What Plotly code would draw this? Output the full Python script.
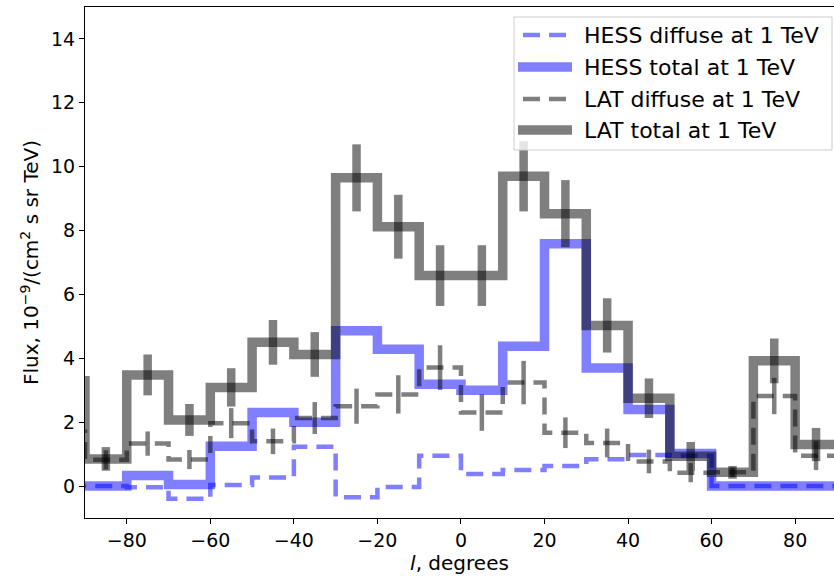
import plotly.graph_objects as go

# Bin centers (degrees of Galactic longitude); the first bin lies just outside the axis
centers = [-95, -85, -75, -65, -55, -45, -35, -25, -15, -5, 5, 15, 25, 35, 45, 55, 65, 75, 85]
bin_half = 5

hess_diffuse = [0.0, 0.0, -0.04, -0.40, 0.03, 0.27, 1.23, -0.35, -0.03, 0.95, 0.38, 0.50, 0.63, 0.84, 0.97, 0.95, 0.0, 0.0, 0.0]
hess_total = [0.0, 0.0, 0.33, 0.05, 1.25, 2.30, 2.00, 4.86, 4.28, 3.19, 3.00, 4.38, 7.59, 3.70, 2.40, 1.02, 0.0, 0.0, 0.0]
lat_diffuse = [1.70, 0.82, 1.33, 0.83, 1.97, 1.40, 2.13, 2.50, 2.87, 3.71, 2.30, 3.24, 1.67, 1.35, 0.77, 0.42, 0.43, 2.82, 0.95]
lat_diffuse_err = [0.45, 0.30, 0.38, 0.30, 0.47, 0.40, 0.50, 0.55, 0.60, 0.70, 0.57, 0.68, 0.48, 0.45, 0.37, 0.30, 0.15, 0.57, 0.45]
lat_total = [3.30, 0.85, 3.48, 2.07, 3.09, 4.50, 4.12, 9.65, 8.12, 6.59, 6.59, 9.70, 8.53, 5.03, 2.75, 0.93, 0.43, 3.92, 1.30]
lat_total_err = [0.60, 0.37, 0.64, 0.50, 0.60, 0.70, 0.70, 1.05, 1.00, 0.95, 0.95, 1.10, 1.05, 0.85, 0.62, 0.45, 0.20, 0.70, 0.52]

legend_labels = ["HESS diffuse at 1 TeV", "HESS total at 1 TeV", "LAT diffuse at 1 TeV", "LAT total at 1 TeV"]
x_ticks = [-80, -60, -40, -20, 0, 20, 40, 60, 80]
y_ticks = [0, 2, 4, 6, 8, 10, 12, 14]

BLUE = "rgba(0,0,255,0.5)"
GREY = "rgba(0,0,0,0.5)"
FONT = "DejaVu Sans"
FS = 19
FS_TITLE = 20
FS_LEG = 22

edges = [c - bin_half for c in centers] + [centers[-1] + bin_half]


def stairs(vals):
    return vals + [vals[-1]]


fig = go.Figure()
fig.add_trace(go.Scatter(x=edges, y=stairs(hess_diffuse), mode="lines", line_shape="hv",
                         line=dict(color=BLUE, width=4.5, dash="17px,9px"), showlegend=False))
fig.add_trace(go.Scatter(x=edges, y=stairs(hess_total), mode="lines", line_shape="hv",
                         line=dict(color=BLUE, width=9.5), showlegend=False))
fig.add_trace(go.Scatter(x=edges, y=stairs(lat_diffuse), mode="lines", line_shape="hv",
                         line=dict(color=GREY, width=4.5, dash="17px,9px"), showlegend=False))
fig.add_trace(go.Scatter(x=centers[1:], y=lat_diffuse[1:], mode="markers",
                         marker=dict(size=1, color="rgba(0,0,0,0)"),
                         error_y=dict(type="data", array=lat_diffuse_err[1:], color=GREY, thickness=4.5, width=0),
                         showlegend=False))
fig.add_trace(go.Scatter(x=edges, y=stairs(lat_total), mode="lines", line_shape="hv",
                         line=dict(color=GREY, width=9.5), showlegend=False))
fig.add_trace(go.Scatter(x=centers[1:], y=lat_total[1:], mode="markers",
                         marker=dict(size=1, color="rgba(0,0,0,0)"),
                         error_y=dict(type="data", array=lat_total_err[1:], color=GREY, thickness=8.5, width=0),
                         showlegend=False))

# Plot-area geometry in pixels (for the hand-drawn legend box)
W, H = 834, 577
ML, MR, MT, MB = 85, 0, 7, 59
PW, PH = W - ML - MR, H - MT - MB


def px_x(p):
    return (p - ML) / PW


def px_y(p):
    return 1 - (p - MT) / PH


shapes = [dict(type="rect", xref="paper", yref="paper",
               x0=px_x(514), x1=px_x(832), y0=px_y(150), y1=px_y(17),
               fillcolor="rgba(255,255,255,0.8)", line=dict(color="#cccccc", width=1), layer="above")]
legend_styles = [
    dict(color=BLUE, width=4.5, dash="17px,9px"),
    dict(color=BLUE, width=9.5),
    dict(color=GREY, width=4.5, dash="17px,9px"),
    dict(color=GREY, width=9.5),
]
row_y = [35, 67, 99, 130]
annotations = []
for lab, sty, ry in zip(legend_labels, legend_styles, row_y):
    x0 = 523 if "dash" in sty else 518
    x1 = 568 if "dash" in sty else 572
    shapes.append(dict(type="line", xref="paper", yref="paper",
                       x0=px_x(x0), x1=px_x(x1), y0=px_y(ry), y1=px_y(ry),
                       line=sty, layer="above"))
    annotations.append(dict(x=px_x(582), y=px_y(ry), xref="paper", yref="paper",
                            text=lab, showarrow=False, xanchor="left", yanchor="middle",
                            font=dict(family=FONT, size=FS_LEG, color="black")))

fig.update_layout(
    width=W, height=H,
    margin=dict(l=ML, r=MR, t=MT, b=MB, pad=0),
    plot_bgcolor="white", paper_bgcolor="white",
    font=dict(family=FONT, size=FS, color="black"),
    showlegend=False,
    shapes=shapes,
    annotations=annotations,
    xaxis=dict(range=[-90, 89.3], tickvals=x_ticks, ticks="outside", ticklen=5, tickwidth=1.2,
               tickcolor="black", showline=True, linecolor="black", linewidth=1.2, mirror=True,
               showgrid=False, zeroline=False, automargin=False,
               title=dict(text="<i>l</i>, degrees", standoff=4, font=dict(size=FS_TITLE))),
    yaxis=dict(range=[-1, 15], tickvals=y_ticks, ticks="outside", ticklen=5, tickwidth=1.2,
               tickcolor="black", showline=True, linecolor="black", linewidth=1.2, mirror=False,
               showgrid=False, zeroline=False, automargin=False,
               title=dict(text="Flux, 10<sup>−9</sup>/(cm<sup>2</sup> s sr TeV)", standoff=6,
                          font=dict(size=FS_TITLE))),
)

fig.write_html("out.html")
